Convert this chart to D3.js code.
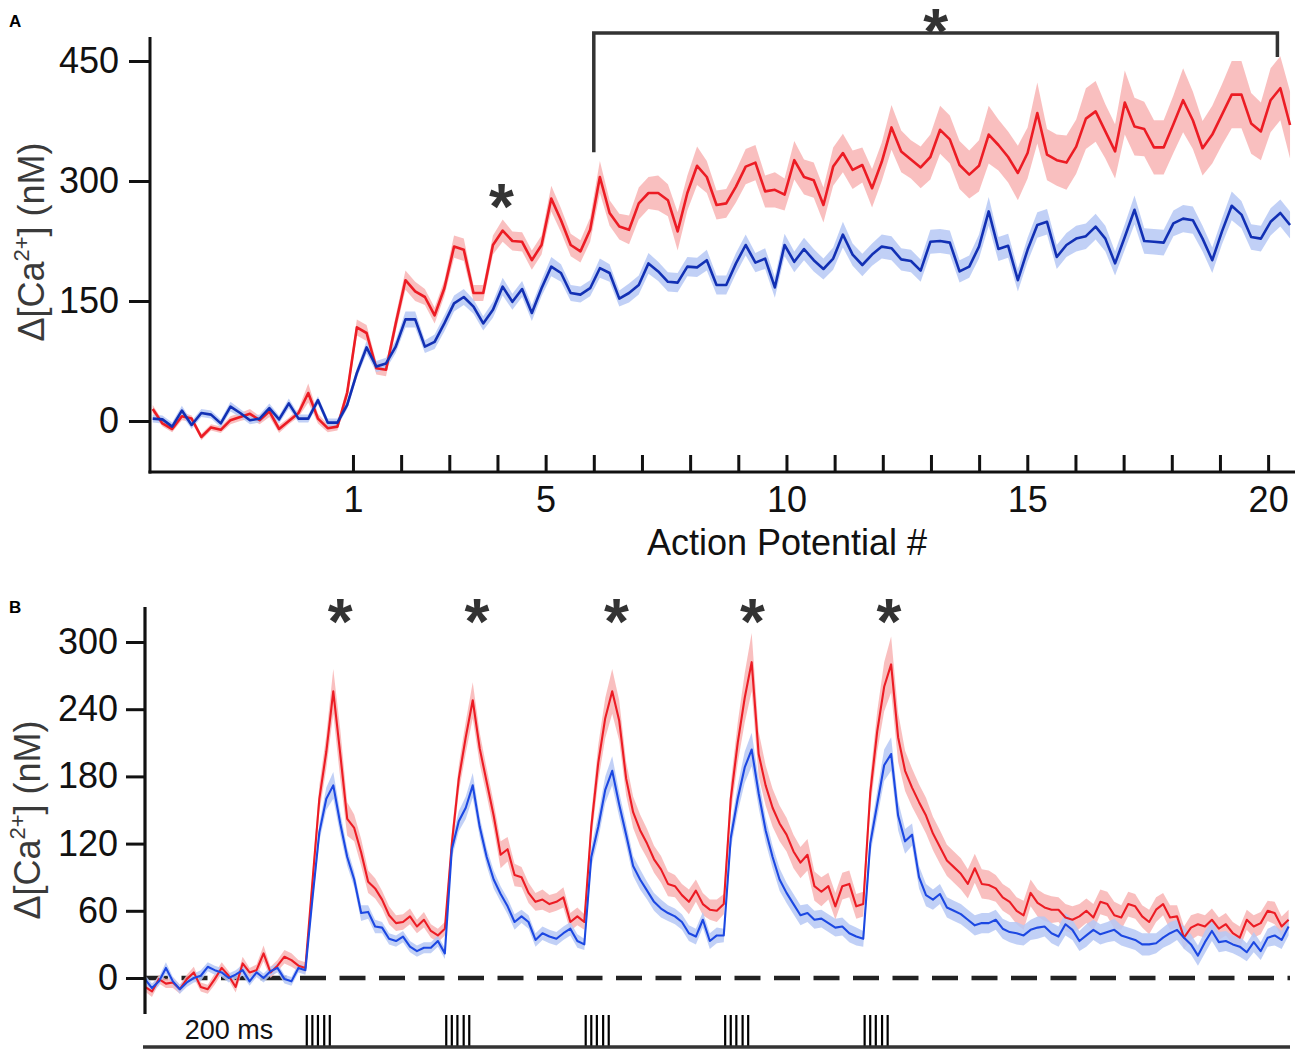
<!DOCTYPE html>
<html>
<head>
<meta charset="utf-8">
<script src="https://cdn.jsdelivr.net/npm/d3@7"></script>
<style>
  body { margin: 0; background: #fff; }
  svg { display: block; }
  text { font-family: "Liberation Sans", Arial, sans-serif; }
</style>
</head>
<body>
<div id="chart"></div>
<script>
// ---------- Panel A: responses per action potential (20 APs) ----------
// sampling: one point every 10 ms, first point 206 ms before AP1
const dtA = 10;
const tStartA = -206;
const apPeriodA = 49.55;            // ms between APs
const apNumbers = d3.range(1, 21);
const apLabeled = [1, 5, 10, 15, 20];

const redA = [
  15, -3, -10, 6, 3, -20, -8, -11, 1, 5, 9, 1, 12, -10, 0, 10, 35, 3, -9, -7, 35,
  117, 110, 66, 64, 122, 176, 162, 155, 132, 166, 218, 214, 160, 160, 220, 238, 225, 224, 201, 220, 278,
  251, 220, 212, 239, 305, 260, 243, 239, 272, 285, 285, 276, 237, 285, 319, 305, 270, 272, 293, 318,
  323, 287, 289, 283, 326, 305, 301, 270, 318, 335, 314, 320, 291, 324, 367, 337, 327, 317, 330, 364,
  352, 320, 308, 319, 358, 345, 330, 310, 335, 385, 333, 326, 323, 343, 378, 387, 362, 337, 398, 368,
  365, 342, 342, 371, 401, 376, 341, 358, 383, 408, 408, 372, 362, 401, 416, 370
];
const redSemA = [
  5, 4, 4, 5, 4, 4, 4, 4, 5, 5, 6, 5, 7, 5, 4, 5, 12, 6, 5, 5, 8,
  10, 10, 8, 8, 10, 12, 12, 10, 10, 10, 14, 14, 10, 10, 12, 14, 12, 12, 12, 12, 16,
  15, 14, 14, 15, 20, 16, 16, 18, 20, 20, 22, 20, 24, 22, 24, 20, 18, 18, 20, 22,
  22, 20, 22, 20, 24, 22, 22, 22, 24, 24, 24, 22, 24, 24, 28, 26, 24, 26, 28, 30,
  30, 30, 30, 32, 36, 32, 32, 34, 32, 38, 32, 32, 34, 34, 38, 38, 34, 34, 40, 36,
  34, 34, 34, 36, 40, 36, 34, 36, 38, 42, 42, 38, 36, 40, 40, 42
];
const blueA = [
  3, 2, -7, 13, -5, 10, 8, -3, 18, 10, 1, 3, 16, 2, 22, 3, 3, 26, -2, -2, 20,
  60, 92, 68, 72, 93, 127, 127, 93, 99, 122, 147, 155, 143, 122, 139, 168, 149, 165, 135, 166, 193,
  185, 160, 158, 166, 191, 185, 153, 160, 170, 197, 187, 174, 173, 193, 192, 201, 170, 170, 197, 220,
  198, 203, 167, 220, 199, 215, 201, 190, 203, 233, 208, 195, 208, 218, 216, 202, 200, 188, 224, 225,
  223, 187, 193, 218, 262, 215, 219, 176, 214, 245, 249, 205, 220, 228, 231, 243, 228, 197, 230, 264,
  225, 224, 223, 247, 253, 251, 228, 201, 237, 269, 258, 230, 228, 249, 260, 245
];
const blueSemA = [
  5, 5, 5, 6, 5, 5, 5, 5, 6, 5, 5, 5, 6, 5, 6, 5, 5, 5, 5, 5, 5,
  6, 8, 7, 7, 8, 10, 10, 8, 9, 10, 10, 10, 9, 9, 10, 11, 10, 10, 10, 10, 12,
  11, 10, 10, 10, 12, 11, 10, 12, 12, 13, 12, 12, 12, 12, 12, 13, 12, 12, 13, 13,
  12, 13, 13, 14, 13, 14, 14, 13, 14, 16, 14, 14, 14, 15, 15, 14, 14, 14, 15, 15,
  15, 14, 14, 15, 18, 15, 15, 14, 15, 16, 16, 15, 15, 16, 16, 16, 16, 15, 16, 18,
  16, 16, 16, 16, 17, 17, 16, 16, 16, 18, 17, 16, 16, 17, 17, 17
];
const yTicksA = [0, 150, 300, 450];

// ---------- Panel B: 5 bursts, 200 ms apart ----------
const dtB = 10;                      // ms per sample, starting at 0
const burstStarts = [232, 432, 632, 832, 1032];
const pulseOffsets = [0, 8, 16, 25, 33];
const starTimesB = [280, 476, 676, 871, 1067];

const redB = [
  -8, -12, -1, -5, -4, -10, -1, 5, -8, -10, -1, 9, 2, -8, 13, 5, 7, 22, 5, 11, 19, 16, 11, 9,
  85, 160, 202, 256, 200, 142, 134, 112, 86, 80, 70, 56, 49, 50, 55, 46, 52, 42, 38, 44,
  120, 178, 215, 248, 205, 175, 145, 110, 115, 92, 90, 76, 68, 70, 66, 68, 72, 50, 55, 50,
  135, 192, 232, 256, 230, 178, 148, 132, 120, 106, 97, 84, 82, 74, 68, 78, 66, 61, 60, 66,
  160, 210, 250, 282, 200, 172, 152, 138, 128, 113, 103, 110, 82, 77, 82, 64, 82, 84, 64, 66,
  165, 220, 260, 280, 215, 185, 170, 157, 145, 129, 117, 105, 99, 93, 84, 98, 84, 83, 80, 72,
  68, 60, 56, 76, 67, 63, 61, 61, 54, 52, 55, 60, 54, 68, 66, 56, 54, 66, 64, 55,
  50, 61, 66, 54, 55, 36, 45, 48, 46, 52, 44, 48, 40, 36, 52, 46, 49, 60, 58, 46, 52
];
const redSemB = [
  4, 5, 4, 4, 5, 4, 4, 5, 4, 4, 5, 5, 4, 5, 6, 4, 5, 7, 5, 5, 6, 6, 5, 5,
  8, 12, 15, 20, 22, 15, 12, 12, 10, 9, 8, 8, 7, 7, 7, 6, 7, 6, 6, 6,
  10, 12, 14, 16, 14, 12, 12, 12, 11, 10, 9, 9, 8, 9, 8, 8, 9, 8, 8, 7,
  12, 16, 18, 20, 18, 15, 14, 14, 13, 12, 12, 11, 10, 10, 11, 10, 10, 9, 10, 9,
  14, 18, 22, 26, 20, 18, 17, 16, 15, 15, 14, 14, 13, 13, 12, 12, 12, 12, 11, 11,
  14, 18, 22, 25, 22, 18, 17, 16, 16, 15, 15, 14, 14, 14, 13, 13, 13, 13, 12, 12,
  12, 12, 13, 12, 12, 12, 12, 11, 12, 12, 11, 11, 12, 11, 11, 12, 11, 11, 11, 10,
  11, 11, 10, 11, 10, 10, 11, 10, 10, 10, 10, 10, 10, 10, 9, 10, 10, 9, 10, 9, 9
];
const blueB = [
  -1, -9, -3, 9, -3, -10, -4, 0, 2, 10, 7, 5, 0, 3, 7, -3, 5, 0, 6, 9, -1, -3, 9, 7,
  70, 130, 160, 172, 138, 108, 88, 58, 59, 46, 45, 35, 33, 37, 28, 24, 27, 27, 33, 22,
  115, 140, 152, 172, 135, 108, 88, 75, 64, 50, 55, 50, 34, 40, 37, 35, 40, 44, 33, 30,
  108, 135, 168, 185, 155, 128, 100, 88, 78, 68, 62, 58, 55, 50, 40, 37, 52, 33, 38, 38,
  125, 160, 188, 204, 165, 132, 108, 88, 76, 66, 56, 58, 52, 53, 49, 45, 46, 40, 37, 35,
  120, 155, 190, 200, 145, 122, 128, 90, 74, 70, 75, 63, 60, 57, 52, 47, 49, 49, 52, 44,
  41, 40, 38, 43, 45, 46, 40, 37, 48, 43, 33, 38, 43, 39, 41, 43, 38, 36, 34, 30,
  30, 31, 36, 40, 43, 36, 30, 20, 32, 42, 32, 33, 30, 28, 23, 32, 24, 36, 38, 34, 46
];
const blueSemB = [
  4, 4, 4, 5, 4, 4, 4, 4, 5, 4, 4, 4, 4, 4, 5, 4, 4, 4, 4, 4, 4, 4, 4, 4,
  6, 8, 10, 12, 10, 8, 7, 7, 6, 6, 5, 5, 5, 5, 5, 5, 5, 5, 5, 5,
  8, 9, 10, 11, 9, 8, 8, 7, 7, 7, 6, 6, 6, 6, 6, 6, 6, 6, 6, 5,
  9, 11, 12, 13, 11, 10, 9, 9, 8, 8, 8, 7, 7, 7, 7, 7, 7, 7, 7, 6,
  10, 12, 14, 15, 13, 11, 10, 10, 9, 9, 9, 8, 8, 8, 8, 8, 8, 8, 8, 7,
  10, 12, 14, 15, 13, 11, 10, 10, 10, 9, 9, 9, 9, 9, 9, 9, 9, 9, 9, 9,
  9, 10, 9, 9, 10, 9, 9, 9, 10, 9, 9, 10, 9, 9, 9, 10, 9, 9, 9, 10,
  10, 9, 9, 10, 9, 10, 9, 9, 10, 9, 9, 9, 8, 9, 8, 9, 8, 8, 9, 8, 8
];
const yTicksB = [0, 60, 120, 180, 240, 300];

// ---------- colours ----------
const RED = "#ec1c24";
const RED_BAND = "#f8b4b4";
const BLUE_A = "#1230b4";
const BLUE_B = "#1c48e2";
const BLUE_BAND = "#b6c8f4";
const AXIS = "#111";
const DARK = "#333";

const svg = d3.select("#chart").append("svg")
    .attr("width", 1300)
    .attr("height", 1053);

// series helper: band now, line later (returned)
function drawSeries(g, x, y, times, values, sems, lineColor, bandColor, width) {
    const pts = values.map((v, i) => ({ t: times[i], v: v, s: sems[i] }));
    g.append("path")
        .datum(pts)
        .attr("fill", bandColor)
        .attr("fill-opacity", 0.85)
        .attr("d", d3.area()
            .x(d => x(d.t))
            .y0(d => y(d.v - d.s))
            .y1(d => y(d.v + d.s)));
    return () => g.append("path")
        .datum(pts)
        .attr("fill", "none")
        .attr("stroke", lineColor)
        .attr("stroke-width", width)
        .attr("stroke-linejoin", "round")
        .attr("d", d3.line().x(d => x(d.t)).y(d => y(d.v)));
}

function yLabel(cx, cy) {
    const t = svg.append("text")
        .attr("transform", `translate(${cx},${cy}) rotate(-90)`)
        .attr("text-anchor", "middle")
        .attr("font-size", 36)
        .attr("fill", "#3a3a3a");
    t.append("tspan").text("Δ[Ca");
    t.append("tspan").attr("font-size", 22).attr("dy", -15).text("2+");
    t.append("tspan").attr("dy", 15).text("] (nM)");
}

function star(x, y, size) {
    svg.append("text")
        .attr("x", x)
        .attr("y", y + size * 0.575)
        .attr("text-anchor", "middle")
        .attr("font-size", size)
        .attr("font-weight", "bold")
        .attr("fill", DARK)
        .text("*");
}

function styleYAxis(g) {
    g.select(".domain").remove();
    g.selectAll(".tick line").attr("stroke", AXIS).attr("stroke-width", 3);
    g.selectAll(".tick text")
        .attr("font-size", 36)
        .attr("fill", AXIS)
        .style("font-family", "'Liberation Sans', Arial, sans-serif");
}

// ================= Panel A =================
const xA = d3.scaleLinear().domain([-208.8, 969.1]).range([150, 1295]);
const yA = d3.scaleLinear().domain([0, 450]).range([421, 61]);
const tA = redA.map((_, j) => tStartA + j * dtA);

const gA = svg.append("g");
const redLineA = drawSeries(gA, xA, yA, tA, redA, redSemA, RED, RED_BAND, 2.6);
const blueLineA = drawSeries(gA, xA, yA, tA, blueA, blueSemA, BLUE_A, BLUE_BAND, 2.6);
redLineA();
blueLineA();

svg.append("text").attr("x", 9).attr("y", 27)
    .attr("font-size", 17).attr("font-weight", "bold").text("A");

// y axis
svg.append("g")
    .attr("transform", "translate(150,0)")
    .call(d3.axisLeft(yA).tickValues(yTicksA).tickSize(21).tickPadding(10))
    .call(styleYAxis);
svg.append("line")
    .attr("x1", 150).attr("x2", 150)
    .attr("y1", yA(480)).attr("y2", 473.5)
    .attr("stroke", AXIS).attr("stroke-width", 3);

// x axis (ticks pointing up, labels below)
const apTickTimes = apNumbers.map(n => (n - 1) * apPeriodA);
const xAxisA = svg.append("g")
    .attr("transform", "translate(0,472)")
    .call(d3.axisBottom(xA)
        .tickValues(apTickTimes)
        .tickSize(-17)
        .tickPadding(14)
        .tickFormat((d, i) => apLabeled.includes(apNumbers[i]) ? apNumbers[i] : ""));
xAxisA.select(".domain").remove();
xAxisA.selectAll(".tick line").attr("stroke", AXIS).attr("stroke-width", 3);
xAxisA.selectAll(".tick text").attr("font-size", 36).attr("fill", AXIS)
    .style("font-family", "'Liberation Sans', Arial, sans-serif");
svg.append("line")
    .attr("x1", 148.5).attr("x2", 1295)
    .attr("y1", 472).attr("y2", 472)
    .attr("stroke", AXIS).attr("stroke-width", 3);

svg.append("text")
    .attr("x", 787).attr("y", 555)
    .attr("text-anchor", "middle")
    .attr("font-size", 36)
    .attr("fill", AXIS)
    .text("Action Potential #");

yLabel(44, 242);

// significance bracket from AP6 to the end of the train
const brL = xA(5 * apPeriodA), brR = xA(951);
svg.append("path")
    .attr("d", `M${brL},${yA(336)} V33 H${brR} V57`)
    .attr("fill", "none")
    .attr("stroke", DARK)
    .attr("stroke-width", 3.5);
star((brL + brR) / 2, 17, 64);
star(xA(3 * apPeriodA + 4), 192, 64);

// ================= Panel B =================
const xB = d3.scaleLinear().domain([0, 1642]).range([145, 1290]);
const yB = d3.scaleLinear().domain([0, 300]).range([978, 642]);
const tB = redB.map((_, j) => j * dtB);

svg.append("text").attr("x", 9).attr("y", 613)
    .attr("font-size", 17).attr("font-weight", "bold").text("B");

// zero line
svg.append("line")
    .attr("x1", 145).attr("x2", 1290)
    .attr("y1", yB(0)).attr("y2", yB(0))
    .attr("stroke", "#222")
    .attr("stroke-width", 4.5)
    .attr("stroke-dasharray", "26,13.5")
    .attr("stroke-dashoffset", 3);

const gB = svg.append("g");
const redLineB = drawSeries(gB, xB, yB, tB, redB, redSemB, RED, RED_BAND, 2.1);
const blueLineB = drawSeries(gB, xB, yB, tB, blueB, blueSemB, BLUE_B, BLUE_BAND, 2.1);
redLineB();
blueLineB();

svg.append("g")
    .attr("transform", "translate(145,0)")
    .call(d3.axisLeft(yB).tickValues(yTicksB).tickSize(19).tickPadding(8))
    .call(styleYAxis);
svg.append("line")
    .attr("x1", 145).attr("x2", 145)
    .attr("y1", 607).attr("y2", 1014)
    .attr("stroke", AXIS).attr("stroke-width", 3.2);

yLabel(40, 820);

// stars above each burst
starTimesB.forEach(t => star(xB(t), 607, 64));

// stimulus pulses
const pulses = burstStarts.flatMap(b => pulseOffsets.map(o => b + o));
svg.append("g").selectAll("line")
    .data(pulses)
    .enter()
    .append("line")
    .attr("x1", d => xB(d)).attr("x2", d => xB(d))
    .attr("y1", 1015).attr("y2", 1046)
    .attr("stroke", "#000")
    .attr("stroke-width", 2.2);

svg.append("line")
    .attr("x1", 143).attr("x2", 1290)
    .attr("y1", 1047).attr("y2", 1047)
    .attr("stroke", DARK)
    .attr("stroke-width", 3.5);

svg.append("text")
    .attr("x", 229).attr("y", 1039)
    .attr("text-anchor", "middle")
    .attr("font-size", 27)
    .attr("fill", AXIS)
    .text("200 ms");
</script>
</body>
</html>
